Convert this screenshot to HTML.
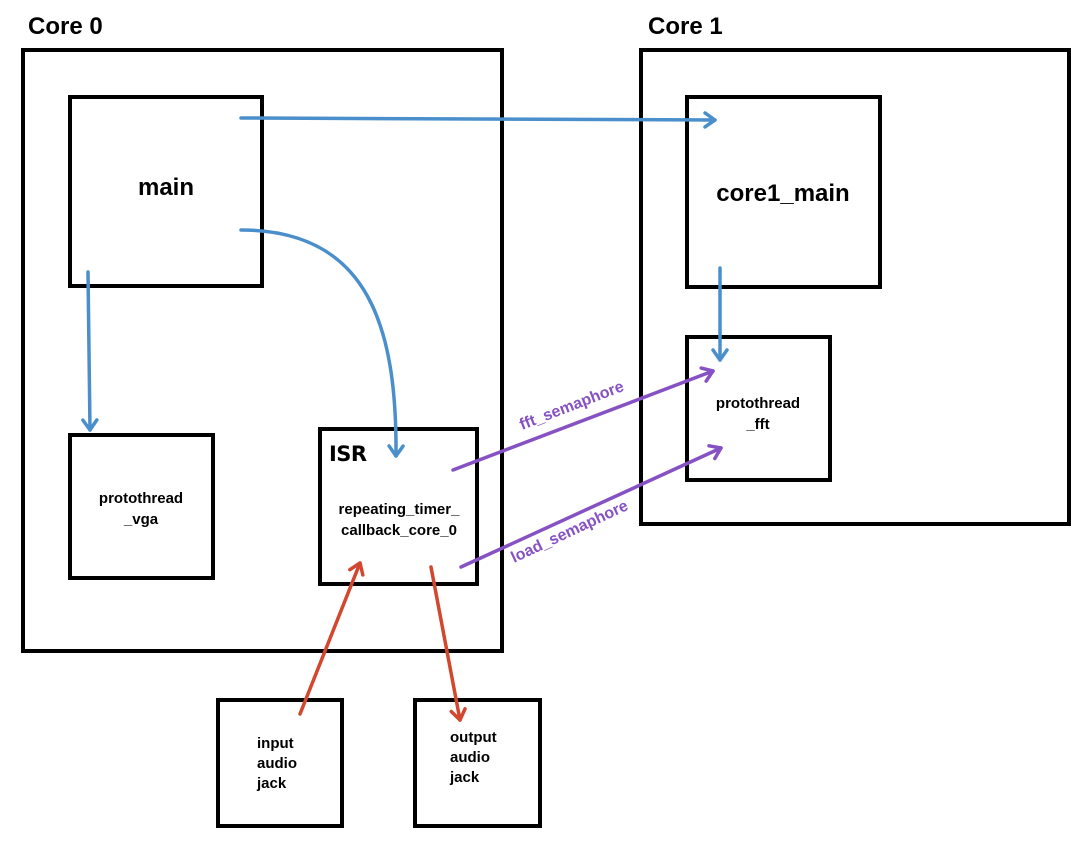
<!DOCTYPE html>
<html><head><meta charset="utf-8"><style>
html,body{margin:0;padding:0;background:#fff;}
svg{display:block;font-family:"Liberation Sans",Arial,sans-serif;font-weight:bold;}
</style></head><body>
<svg width="1082" height="843" viewBox="0 0 1082 843" xmlns="http://www.w3.org/2000/svg">
<defs>
<marker id="b" markerWidth="16" markerHeight="18" refX="12" refY="9" orient="auto" markerUnits="userSpaceOnUse"><path d="M2,2 L12,9 L2,16" fill="none" stroke="#4a8fcb" stroke-width="3.5" stroke-linecap="round" stroke-linejoin="round"/></marker>
<marker id="p" markerWidth="16" markerHeight="18" refX="12" refY="9" orient="auto" markerUnits="userSpaceOnUse"><path d="M2,2 L12,9 L2,16" fill="none" stroke="#8652c3" stroke-width="3.5" stroke-linecap="round" stroke-linejoin="round"/></marker>
<marker id="r" markerWidth="16" markerHeight="18" refX="12" refY="9" orient="auto" markerUnits="userSpaceOnUse"><path d="M2,2 L12,9 L2,16" fill="none" stroke="#d4472f" stroke-width="3.5" stroke-linecap="round" stroke-linejoin="round"/></marker>
</defs>
<g fill="none" stroke="#000" stroke-width="4">
<rect x="23" y="50" width="479" height="601"/>
<rect x="641" y="50" width="428" height="474"/>
<rect x="70" y="97" width="192" height="189"/>
<rect x="687" y="97" width="193" height="190"/>
<rect x="687" y="337" width="143" height="143"/>
<rect x="70" y="435" width="143" height="143"/>
<rect x="320" y="429" width="157" height="155"/>
<rect x="218" y="700" width="124" height="126"/>
<rect x="415" y="700" width="125" height="126"/>
</g>
<text x="28" y="34" font-size="24">Core 0</text>
<text x="648" y="34" font-size="24">Core 1</text>
<text x="166" y="195" font-size="24" text-anchor="middle">main</text>
<text x="783" y="201" font-size="24" text-anchor="middle">core1_main</text>
<text x="758" y="408" font-size="15" text-anchor="middle">protothread</text>
<text x="758" y="429" font-size="15" text-anchor="middle">_fft</text>
<text x="141" y="503" font-size="15" text-anchor="middle">protothread</text>
<text x="141" y="524" font-size="15" text-anchor="middle">_vga</text>
<text x="329" y="461" font-size="21" font-family="'DejaVu Sans',sans-serif" font-weight="bold" textLength="38">ISR</text>
<text x="399" y="514" font-size="15" text-anchor="middle">repeating_timer_</text>
<text x="399" y="535" font-size="15" text-anchor="middle">callback_core_0</text>
<text x="257" y="748" font-size="15">input</text>
<text x="257" y="768" font-size="15">audio</text>
<text x="257" y="788" font-size="15">jack</text>
<text x="450" y="742" font-size="15">output</text>
<text x="450" y="762" font-size="15">audio</text>
<text x="450" y="782" font-size="15">jack</text>
<g fill="none" stroke="#4a8fcb" stroke-width="3.5" stroke-linecap="round">
<line x1="241" y1="118" x2="715" y2="120" marker-end="url(#b)"/>
<path d="M241,230 C370,230 397,330 396,456" marker-end="url(#b)"/>
<line x1="88" y1="272" x2="90" y2="430" marker-end="url(#b)"/>
<line x1="720" y1="268" x2="720" y2="360" marker-end="url(#b)"/>
</g>
<g fill="none" stroke="#8652c3" stroke-width="3.5" stroke-linecap="round">
<line x1="453" y1="470" x2="713" y2="371" marker-end="url(#p)"/>
<line x1="461" y1="567" x2="721" y2="448" marker-end="url(#p)"/>
</g>
<g fill="none" stroke="#d4472f" stroke-width="3.5" stroke-linecap="round">
<line x1="300" y1="714" x2="360" y2="563" marker-end="url(#r)"/>
<line x1="431" y1="567" x2="460" y2="720" marker-end="url(#r)"/>
</g>
<text x="522" y="430" font-size="16" fill="#8652c3" transform="rotate(-21 522 430)">fft_semaphore</text>
<text x="514" y="563" font-size="16" fill="#8652c3" transform="rotate(-25 514 563)">load_semaphore</text>
</svg>
</body></html>
